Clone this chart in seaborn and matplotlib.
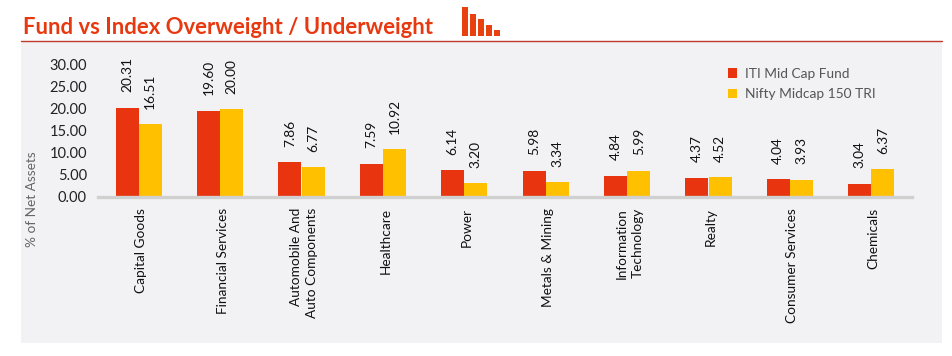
import pandas as pd
import seaborn as sns
import matplotlib.pyplot as plt
from matplotlib.patches import Rectangle
from matplotlib.lines import Line2D
from matplotlib.transforms import ScaledTranslation

sectors = ["Capital Goods", "Financial Services", "Automobile And\nAuto Components", "Healthcare", "Power",
           "Metals & Mining", "Information\nTechnology", "Realty", "Consumer Services", "Chemicals"]
fund = [20.31, 19.60, 7.86, 7.59, 6.14, 5.98, 4.84, 4.37, 4.04, 3.04]
index = [16.51, 20.00, 6.77, 10.92, 3.20, 3.34, 5.99, 4.52, 3.93, 6.37]
y_ticks = [0, 5, 10, 15, 20, 25, 30]
icon_heights = [29, 22, 17, 11, 6]

sns.set_theme(style="white")
plt.rcParams['font.family'] = ['Lato', 'DejaVu Sans']

W, H = 952, 356
fig = plt.figure(figsize=(W / 100, H / 100), dpi=100, facecolor="white")

# light panel behind the chart, title rule above it
fig.add_artist(Rectangle((21 / W, 1 - 343 / H), 921 / W, 302 / H, transform=fig.transFigure,
                         facecolor="#f2f2f4", edgecolor="none", zorder=-2))
fig.add_artist(Line2D([21 / W, 942 / W], [1 - 40.5 / H] * 2, transform=fig.transFigure, color="#c0392b", lw=1))
fig.text(23 / W, 1 - 27 / H, "Fund vs Index Overweight / Underweight", color="#e8380f", fontsize=15.95,
         fontweight="bold", va="center", ha="left")

df = pd.DataFrame({"sector": sectors, "ITI Mid Cap Fund": fund, "Nifty Midcap 150 TRI": index})
df = df.melt(id_vars="sector", var_name="series", value_name="weight")

ax = fig.add_axes([98 / W, 1 - 197 / H, 814 / W, 132 / H])
ax.patch.set_alpha(0)
sns.barplot(data=df, x="sector", y="weight", hue="series", palette=["#e8340f", "#ffc000"], width=0.57,
            gap=0, saturation=1, linewidth=0, ax=ax)

# rotated text sits a little left of centre, nudge it back
nudge = ScaledTranslation(2.5 / 100, 0, fig.dpi_scale_trans)

for c in ax.containers:
    for t in ax.bar_label(c, fmt="%.2f", rotation=90, padding=11, fontsize=9.9, color="#111111"):
        t.set_transform(t.get_transform() + nudge)

ax.set_xlim(-0.5, 9.5)
ax.set_ylim(0, 30)
ax.set_yticks(y_ticks, [f"{v:.2f}" for v in y_ticks])
ax.tick_params(axis="y", length=0, pad=8, labelsize=10.5, labelcolor="#222222")
ax.tick_params(axis="x", length=0, pad=8, labelsize=9.8, labelcolor="#111111")
for lab in ax.get_xticklabels():
    lab.set(rotation=90, va="top", ha="center", multialignment="right", linespacing=1.45)
    lab.set_transform(lab.get_transform() + nudge)
ax.set_xlabel("")
ax.set_ylabel("% of Net Assets", fontsize=9.8, color="#666666")
ax.yaxis.set_label_coords(-60 / 814, -0.018)
sns.despine(ax=ax, left=True)
ax.spines["bottom"].set(color="#d0d0d0", linewidth=2.4)

leg = ax.legend(frameon=False, loc="upper left", bbox_to_anchor=(623 / 814, 1.03), fontsize=9.9,
                handlelength=0.68, handleheight=0.7, handletextpad=0.58, labelspacing=0.62, borderpad=0)
for t in leg.get_texts():
    t.set_color("#555555")

# small bar icon next to the title
icon = fig.add_axes([461 / W, 1 - 36 / H, 40 / W, 29 / H])
sns.barplot(x=list(range(len(icon_heights))), y=icon_heights, color="#e8400f", saturation=1, width=0.85,
            linewidth=0, ax=icon)
icon.set_ylim(0, 29)
icon.axis("off")

fig.savefig("out.png", dpi=100)
